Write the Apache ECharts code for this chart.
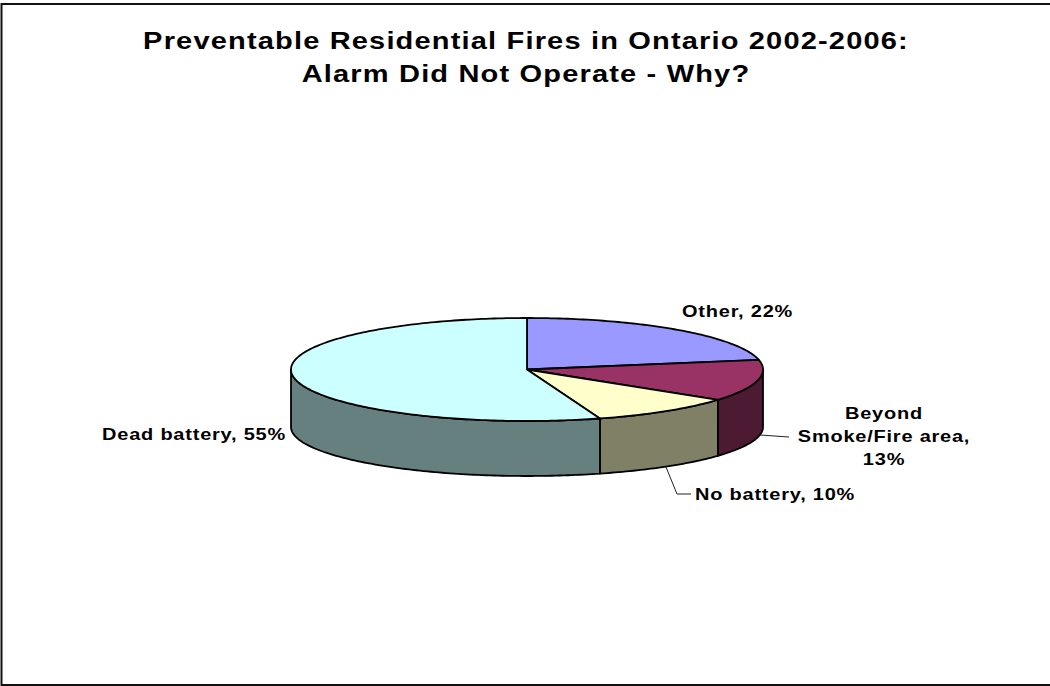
<!DOCTYPE html>
<html>
<head>
<meta charset="utf-8">
<style>
  html, body { margin: 0; padding: 0; background: #fff; }
  #chart { width: 1050px; height: 686px; }
  #chart svg text { letter-spacing: 0.04em; }
</style>
<script src="https://cdn.jsdelivr.net/npm/echarts@6/dist/echarts.min.js"></script>
</head>
<body>
<div id="chart"></div>
<script>
// Share of alarm failures by reason, clockwise from twelve o'clock.
const categories = ['Other', 'Beyond\nSmoke/Fire area', 'No battery', 'Dead battery'];
const shares = [22, 13, 10, 55];
const titleLines = [
  'Preventable Residential Fires in Ontario 2002-2006:',
  'Alarm Did Not Operate - Why?'
];

// Slice colours: top face and the darker wall below it.
const faceColors = ['#9999FF', '#993366', '#FFFFCC', '#CCFFFF'];
const wallColors = ['#4D4D80', '#4D1A33', '#808066', '#668080'];

// Tilted disc geometry.
const disc = { cx: 527, cy: 369.5, rx: 236, ry: 51.5, baseCy: 427, baseRy: 49 };

// Type is drawn wider than the font's natural proportions.
const textStretch = 1.21;
const fontStack = '"Liberation Sans", Arial, sans-serif';

// Label placement and leader lines, per slice.
const labelLayout = [
  { x: 682, y: 311, align: 'left', wrap: false, leader: null },
  { x: 884, y: 436, align: 'center', wrap: true, leader: [[760, 435], [789, 437]] },
  { x: 695, y: 494, align: 'left', wrap: false, leader: [[666, 467], [677, 494], [691, 494]] },
  { x: 286, y: 434, align: 'right', wrap: false, leader: null }
];

const total = shares.reduce((a, b) => a + b, 0);
const startDeg = shares.map((_, i) =>
  shares.slice(0, i).reduce((a, b) => a + b, 0) / total * 360);

function topPoint(deg) {
  const r = deg * Math.PI / 180;
  return [disc.cx + disc.rx * Math.sin(r), disc.cy - disc.ry * Math.cos(r)];
}
function basePoint(deg) {
  const r = deg * Math.PI / 180;
  return [disc.cx + disc.rx * Math.sin(r), disc.baseCy - disc.baseRy * Math.cos(r)];
}
function arc(fn, from, to) {
  const pts = [];
  const n = Math.max(2, Math.ceil(Math.abs(to - from)));
  for (let k = 0; k <= n; k++) pts.push(fn(from + (to - from) * k / n));
  return pts;
}

function renderSlice(params, api) {
  const i = params.dataIndex;
  const share = api.value(0);
  const from = startDeg[i];
  const to = from + share / total * 360;
  const children = [];
  const edge = { stroke: '#000', lineWidth: 1.8, lineJoin: 'round' };

  // The wall is only visible on the near half of the disc.
  const wallFrom = Math.max(from, 90);
  const wallTo = Math.min(to, 270);
  if (wallTo > wallFrom) {
    children.push({
      type: 'polygon',
      shape: { points: arc(topPoint, wallFrom, wallTo).concat(arc(basePoint, wallTo, wallFrom)) },
      style: Object.assign({ fill: wallColors[i] }, edge)
    });
  }
  children.push({
    type: 'polygon',
    shape: { points: [[disc.cx, disc.cy]].concat(arc(topPoint, from, to)) },
    style: Object.assign({ fill: faceColors[i] }, edge)
  });

  const layout = labelLayout[i];
  if (layout.leader) {
    children.push({
      type: 'polyline',
      shape: { points: layout.leader },
      style: { fill: 'none', stroke: '#222', lineWidth: 1 }
    });
  }
  children.push({
    type: 'text',
    x: layout.x,
    y: layout.y,
    scaleX: textStretch,
    style: {
      text: categories[i] + (layout.wrap ? ',\n' : ', ') + share + '%',
      x: 0,
      y: 0,
      align: layout.align,
      verticalAlign: 'middle',
      fill: '#000',
      font: 'bold 16.5px ' + fontStack,
      lineHeight: 23
    }
  });
  return { type: 'group', children: children };
}

const chart = echarts.init(document.getElementById('chart'), null, { renderer: 'svg' });
chart.setOption({
  animation: false,
  backgroundColor: '#fff',
  graphic: [{
    type: 'rect',
    silent: true,
    shape: { x: 1.5, y: 4, width: 1060, height: 681 },
    style: { fill: 'none', stroke: '#111', lineWidth: 2 }
  }, {
    type: 'text',
    silent: true,
    x: 526,
    y: 57.5,
    scaleX: textStretch,
    style: {
      text: titleLines.join('\n'),
      x: 0,
      y: 0,
      align: 'center',
      verticalAlign: 'middle',
      fill: '#000',
      font: 'bold 24px ' + fontStack,
      lineHeight: 33
    }
  }],
  series: [{
    type: 'custom',
    coordinateSystem: 'none',
    renderItem: renderSlice,
    data: shares.map((v, i) => ({ name: categories[i], value: [v] }))
  }]
});
</script>
</body>
</html>
